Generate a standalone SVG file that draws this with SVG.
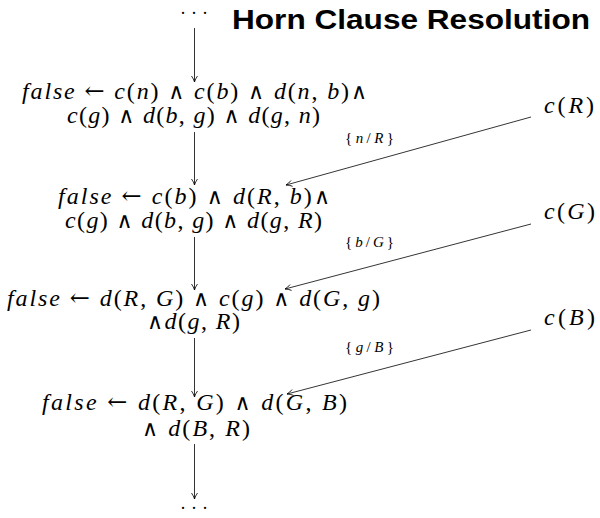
<svg xmlns="http://www.w3.org/2000/svg" width="600" height="518" viewBox="0 0 600 518">
<style>
.m{font-family:"Liberation Serif","DejaVu Serif",serif;font-size:24px;fill:#000}
.i{font-style:italic}
.o{font-family:"DejaVu Serif","Liberation Serif",serif;font-size:22px}
.a{font-family:"DejaVu Serif","Liberation Serif",serif;font-size:24px}
.d{font-family:"Liberation Serif","DejaVu Serif",serif;font-size:18px;fill:#000}
.s{font-family:"Liberation Serif","DejaVu Serif",serif;font-size:15px;fill:#000}
.t{font-family:"Liberation Sans","DejaVu Sans",sans-serif;font-weight:bold;font-size:28px;fill:#000}
.c line{stroke:#000;stroke-width:0.8;fill:none}
</style>
<defs>
<marker id="ah" markerWidth="8" markerHeight="8" refX="7" refY="4" orient="auto" markerUnits="userSpaceOnUse">
<path d="M1,1 Q4,3.2 7,4 Q4,4.8 1,7" fill="none" stroke="#000" stroke-width="0.8"/>
</marker>
</defs>
<rect width="600" height="518" fill="#fff"/>
<text class="t" x="232" y="29" textLength="358" lengthAdjust="spacingAndGlyphs">Horn Clause Resolution</text>
<g id="dots-top" class="d"><text x="194" y="19" text-anchor="middle" textLength="28" lengthAdjust="spacing">· · ·</text></g>
<g id="node1" class="m">
<text x="22" y="99" textLength="345" lengthAdjust="spacing"><tspan class="i">false</tspan> <tspan class="a">←</tspan> <tspan class="i">c</tspan>(<tspan class="i">n</tspan>) <tspan class="o">∧</tspan> <tspan class="i">c</tspan>(<tspan class="i">b</tspan>) <tspan class="o">∧</tspan> <tspan class="i">d</tspan>(<tspan class="i">n</tspan>, <tspan class="i">b</tspan>)<tspan class="o">∧</tspan></text>
<text x="67" y="123" textLength="253" lengthAdjust="spacing"><tspan class="i">c</tspan>(<tspan class="i">g</tspan>) <tspan class="o">∧</tspan> <tspan class="i">d</tspan>(<tspan class="i">b</tspan>, <tspan class="i">g</tspan>) <tspan class="o">∧</tspan> <tspan class="i">d</tspan>(<tspan class="i">g</tspan>, <tspan class="i">n</tspan>)</text>
</g>
<g id="node2" class="m">
<text x="58" y="204" textLength="272" lengthAdjust="spacing"><tspan class="i">false</tspan> <tspan class="a">←</tspan> <tspan class="i">c</tspan>(<tspan class="i">b</tspan>) <tspan class="o">∧</tspan> <tspan class="i">d</tspan>(<tspan class="i">R</tspan>, <tspan class="i">b</tspan>)<tspan class="o">∧</tspan></text>
<text x="65" y="228" textLength="257" lengthAdjust="spacing"><tspan class="i">c</tspan>(<tspan class="i">g</tspan>) <tspan class="o">∧</tspan> <tspan class="i">d</tspan>(<tspan class="i">b</tspan>, <tspan class="i">g</tspan>) <tspan class="o">∧</tspan> <tspan class="i">d</tspan>(<tspan class="i">g</tspan>, <tspan class="i">R</tspan>)</text>
</g>
<g id="node3" class="m">
<text x="7" y="306" textLength="373" lengthAdjust="spacing"><tspan class="i">false</tspan> <tspan class="a">←</tspan> <tspan class="i">d</tspan>(<tspan class="i">R</tspan>, <tspan class="i">G</tspan>) <tspan class="o">∧</tspan> <tspan class="i">c</tspan>(<tspan class="i">g</tspan>) <tspan class="o">∧</tspan> <tspan class="i">d</tspan>(<tspan class="i">G</tspan>, <tspan class="i">g</tspan>)</text>
<text x="147" y="329" textLength="93" lengthAdjust="spacing"><tspan class="o">∧</tspan><tspan class="i">d</tspan>(<tspan class="i">g</tspan>, <tspan class="i">R</tspan>)</text>
</g>
<g id="node4" class="m">
<text x="42" y="410" textLength="305" lengthAdjust="spacing"><tspan class="i">false</tspan> <tspan class="a">←</tspan> <tspan class="i">d</tspan>(<tspan class="i">R</tspan>, <tspan class="i">G</tspan>) <tspan class="o">∧</tspan> <tspan class="i">d</tspan>(<tspan class="i">G</tspan>, <tspan class="i">B</tspan>)</text>
<text x="142" y="436" textLength="108" lengthAdjust="spacing"><tspan class="o">∧</tspan> <tspan class="i">d</tspan>(<tspan class="i">B</tspan>, <tspan class="i">R</tspan>)</text>
</g>
<g id="dots-bottom" class="d"><text x="194" y="514" text-anchor="middle" textLength="28" lengthAdjust="spacing">· · ·</text></g>
<g id="cR" class="m"><text x="544" y="113" textLength="50" lengthAdjust="spacing"><tspan class="i">c</tspan>(<tspan class="i">R</tspan>)</text></g>
<g id="cG" class="m"><text x="544" y="219" textLength="51" lengthAdjust="spacing"><tspan class="i">c</tspan>(<tspan class="i">G</tspan>)</text></g>
<g id="cB" class="m"><text x="544" y="325" textLength="51" lengthAdjust="spacing"><tspan class="i">c</tspan>(<tspan class="i">B</tspan>)</text></g>
<g id="lab1" class="s"><text x="345" y="143" textLength="49" lengthAdjust="spacing">{<tspan class="i">n</tspan>/<tspan class="i">R</tspan>}</text></g>
<g id="lab2" class="s"><text x="345" y="247" textLength="49" lengthAdjust="spacing">{<tspan class="i">b</tspan>/<tspan class="i">G</tspan>}</text></g>
<g id="lab3" class="s"><text x="345" y="352" textLength="49" lengthAdjust="spacing">{<tspan class="i">g</tspan>/<tspan class="i">B</tspan>}</text></g>
<g id="connectors" class="c">
<line x1="194.5" y1="28" x2="194.5" y2="82" marker-end="url(#ah)"/>
<line x1="194.5" y1="132" x2="194.5" y2="185" marker-end="url(#ah)"/>
<line x1="194.5" y1="237" x2="194.5" y2="290" marker-end="url(#ah)"/>
<line x1="194.5" y1="338" x2="194.5" y2="397" marker-end="url(#ah)"/>
<line x1="194.5" y1="444" x2="194.5" y2="499" marker-end="url(#ah)"/>
<line x1="531" y1="117" x2="286" y2="185" marker-end="url(#ah)"/>
<line x1="531" y1="224" x2="285" y2="289" marker-end="url(#ah)"/>
<line x1="531" y1="330" x2="287" y2="394" marker-end="url(#ah)"/>
</g>
</svg>
